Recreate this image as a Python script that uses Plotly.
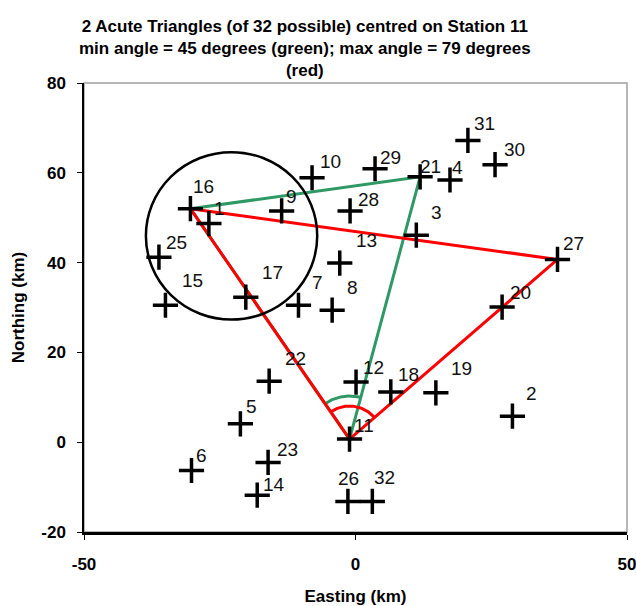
import numpy as np
import plotly.graph_objects as go

# ---------------- data ----------------
station_ids = [1, 2, 3, 4, 5, 6, 7, 8, 9, 10, 11, 12, 13, 14, 15, 16,
               17, 18, 19, 20, 21, 22, 23, 25, 26, 27, 28, 29, 30, 31, 32]
easting = [-27.0, 28.9, 11.2, 17.4, -21.2, -30.2, -10.5, -4.3, -13.6, -8.0,
           -1.1, 0.1, -2.9, -18.1, -35.0, -30.4, -20.2, 6.5, 14.8, 27.0,
           11.9, -15.9, -16.1, -36.2, -1.4, 37.2, -1.0, 3.6, 25.7, 20.7, 3.1]
northing = [48.7, 5.8, 46.1, 58.4, 4.1, -6.3, 30.5, 29.4, 51.5, 58.9,
            0.7, 13.4, 39.9, -11.8, 30.5, 52.0, 32.3, 11.2, 11.0, 30.1,
            59.1, 13.6, -4.5, 41.2, -13.2, 40.7, 51.5, 60.9, 61.8, 67.2, -13.2]

green_triangle = [11, 16, 21, 11]   # min angle 45 deg
red_triangle = [11, 16, 27, 11]     # max angle 79 deg
centre_station = 11

circle_x = [-38.6, -7.05]
circle_y = [27.3, 64.6]

x_ticks = [-50, 0, 50]
y_ticks = [-20, 0, 20, 40, 60, 80]
x_tick_text = ["-50", "0", "50"]
y_tick_text = ["-20", "0", "20", "40", "60", "80"]

title_lines = ["2 Acute Triangles (of 32 possible) centred on Station 11",
               "min angle = 45 degrees (green); max angle = 79 degrees",
               "(red)"]

# label placement (pixel offsets, style only)
label_dx = [11, 19, 20, 8, 11, 10, 19, 20, 10, 18, 14, 17, 27, 17, 27, 13,
            27, 18, 26, 18, 10, 26, 19, 18, 1, 16, 18, 15, 19, 17, 12]
label_dy = [15, 23, 23, 12, 17, 15, 23, 23, 14, 16, 14, 15, 23, 11, 25, 22,
            25, 17, 24, 15, 10, 23, 13, 15, 23, 16, 11, 11, 15, 17, 24]

# ---------------- layout geometry ----------------
W, H = 636, 606
ML, MR, MT, MB = 84, 9, 83, 74
XR = [-50, 50]
YR = [-20, 80]
PW = W - ML - MR
PH = H - MT - MB
sx = PW / (XR[1] - XR[0])
sy = PH / (YR[1] - YR[0])

pos = {s: (x, y) for s, x, y in zip(station_ids, easting, northing)}
GREEN = "#2E9965"
RED = "#FF0000"
FONT = "Liberation Sans, Arial, sans-serif"

fig = go.Figure()


def tri_trace(ids, color):
    return go.Scatter(x=[pos[i][0] for i in ids], y=[pos[i][1] for i in ids],
                      mode="lines", line=dict(color=color, width=3),
                      hoverinfo="skip", showlegend=False)


def arc_trace(v, a, b, r_px, color):
    vx, vy = pos[v]
    ang = []
    for s in (a, b):
        dx = (pos[s][0] - vx) * sx
        dy = (pos[s][1] - vy) * sy
        ang.append(np.arctan2(dy, dx))
    th = np.linspace(ang[0], ang[1], 60)
    ax = vx + r_px * np.cos(th) / sx
    ay = vy + r_px * np.sin(th) / sy
    return go.Scatter(x=ax, y=ay, mode="lines", line=dict(color=color, width=3),
                      hoverinfo="skip", showlegend=False)


fig.add_trace(tri_trace(green_triangle, GREEN))
fig.add_trace(arc_trace(centre_station, green_triangle[1], green_triangle[2], 43, GREEN))
fig.add_trace(tri_trace(red_triangle, RED))
fig.add_trace(arc_trace(centre_station, red_triangle[1], red_triangle[2], 33, RED))

fig.add_trace(go.Scatter(
    x=easting, y=northing, mode="markers",
    marker=dict(symbol="cross-thin", size=18, line=dict(color="black", width=3.5)),
    hoverinfo="skip", showlegend=False))

for s, x, y, dx, dy in zip(station_ids, easting, northing, label_dx, label_dy):
    fig.add_annotation(x=x, y=y, text=str(s), showarrow=False,
                       xshift=dx, yshift=dy, xanchor="center", yanchor="middle",
                       font=dict(family=FONT, size=19, color="#111111"))

# title as a centred annotation (3 lines)
fig.add_annotation(xref="paper", yref="paper", x=(305 - ML) / PW,
                   y=1 + (MT - 48) / PH, xanchor="center", yanchor="middle",
                   text="<br>".join(title_lines), showarrow=False, align="center",
                   font=dict(family=FONT, size=17, color="black", weight="bold"))

# circle
fig.add_shape(type="circle", xref="x", yref="y",
              x0=circle_x[0], x1=circle_x[1], y0=circle_y[0], y1=circle_y[1],
              line=dict(color="black", width=2.5), layer="above")

# gray frame top/right
fig.add_shape(type="rect", xref="paper", yref="paper", x0=0, x1=1, y0=0, y1=1,
              line=dict(color="#A0A0A0", width=1.5), layer="below")

fig.update_layout(
    width=W, height=H,
    margin=dict(l=ML, r=MR, t=MT, b=MB, autoexpand=False),
    paper_bgcolor="white", plot_bgcolor="white",
    xaxis=dict(range=XR, tickvals=x_ticks, ticktext=x_tick_text,
               showgrid=False, zeroline=False,
               showline=True, linecolor="black", linewidth=2.5,
               ticks="outside", ticklen=5, tickcolor="black", tickwidth=1,
               ticklabelstandoff=10, ticklabeloverflow="allow",
               tickfont=dict(family=FONT, size=17, color="black", weight="bold"),
               title=dict(text="Easting (km)", standoff=20,
                          font=dict(family=FONT, size=17, color="black", weight="bold"))),
    yaxis=dict(range=YR, tickvals=y_ticks, ticktext=y_tick_text,
               showgrid=False, zeroline=False,
               showline=True, linecolor="black", linewidth=1.5,
               ticks="outside", ticklen=5, tickcolor="black", tickwidth=1,
               ticklabelstandoff=8, ticklabeloverflow="allow",
               tickfont=dict(family=FONT, size=17, color="black", weight="bold"),
               title=dict(text="Northing (km)", standoff=12,
                          font=dict(family=FONT, size=17, color="black", weight="bold"))),
)

fig.write_html("out.html")
